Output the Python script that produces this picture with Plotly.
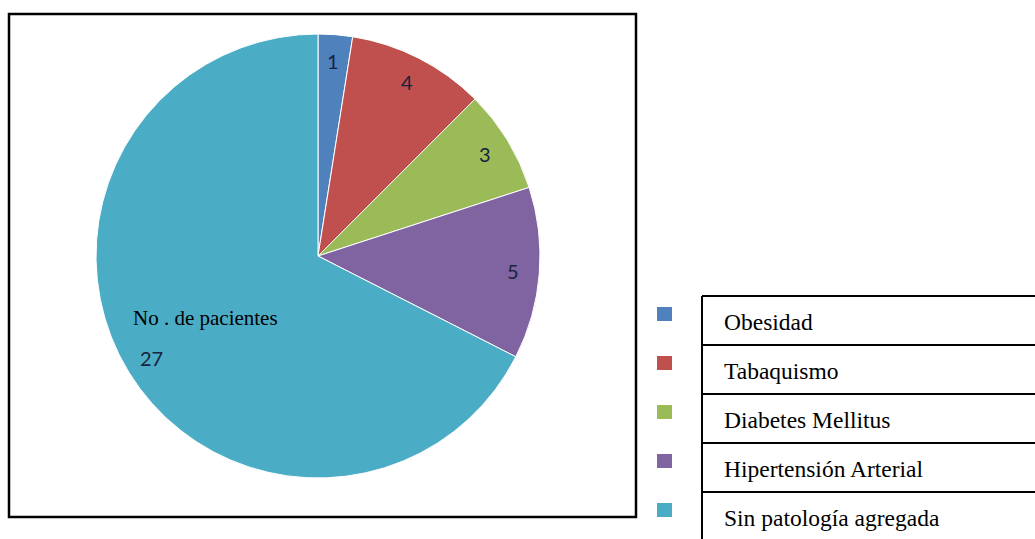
import math
import plotly.graph_objects as go

# Patients by associated condition
categories = ["Obesidad", "Tabaquismo", "Diabetes Mellitus", "Hipertensión Arterial", "Sin patología agregada"]
patients = [1, 4, 3, 5, 27]
colors = ["#4F81BD", "#C0504D", "#9BBB59", "#8064A2", "#4BACC6"]
series_name = "No . de pacientes"

W, H = 1035, 539
cx, cy, R = 318, 256, 222  # pie centre and radius in pixels


def px(x):
    return x / W


def py(y):
    return 1 - y / H


fig = go.Figure()
fig.add_trace(go.Pie(
    labels=categories,
    values=patients,
    marker=dict(colors=colors, line=dict(color="white", width=1)),
    sort=False,
    direction="clockwise",
    rotation=0,
    textinfo="none",
    hoverinfo="label+value",
    showlegend=False,
    domain=dict(x=[px(cx - R), px(cx + R)], y=[py(cy + R), py(cy - R)]),
))

annotations = []
shapes = []

# value labels placed along each slice's mid-angle
total = sum(patients)
cum = 0
label_pos = []
for v in patients:
    theta = 2 * math.pi * (cum + v / 2) / total
    cum += v
    rl = 0.88 * R
    lx = cx + rl * math.sin(theta)
    ly = cy - rl * math.cos(theta)
    label_pos.append((lx, ly))
    annotations.append(dict(
        x=px(lx), y=py(ly), xref="paper", yref="paper",
        text=str(v), showarrow=False,
        font=dict(family="Lato, Carlito, sans-serif", size=20, color="#18233D"),
        xanchor="center", yanchor="middle",
    ))

# series name above the largest slice's label
bx, by = label_pos[-1]
annotations.append(dict(
    x=px(bx - 20), y=py(by - 40), xref="paper", yref="paper",
    text=series_name, showarrow=False,
    font=dict(family="Liberation Serif, Times New Roman, serif", size=21, color="black"),
    xanchor="left", yanchor="middle",
))

# chart frame
shapes.append(dict(type="rect", xref="paper", yref="paper",
                   x0=px(9), x1=px(636), y0=py(517), y1=py(14),
                   line=dict(color="black", width=2.5)))

# legend: colour keys beside a ruled table of category names
row_top, row_h = 296, 49
table_left = 702
shapes.append(dict(type="line", xref="paper", yref="paper",
                   x0=px(table_left), x1=px(table_left), y0=py(row_top), y1=0,
                   line=dict(color="black", width=2)))
for i, (name, col) in enumerate(zip(categories, colors)):
    y0 = row_top + i * row_h
    shapes.append(dict(type="line", xref="paper", yref="paper",
                       x0=px(table_left), x1=1, y0=py(y0), y1=py(y0),
                       line=dict(color="black", width=2)))
    shapes.append(dict(type="rect", xref="paper", yref="paper",
                       x0=px(657), x1=px(672), y0=py(y0 + 11), y1=py(y0 + 25),
                       fillcolor=col, line=dict(width=0)))
    annotations.append(dict(
        x=px(722), y=py(y0 + 26), xref="paper", yref="paper",
        text=name, showarrow=False,
        font=dict(family="Liberation Serif, Times New Roman, serif", size=23.5, color="black"),
        xanchor="left", yanchor="middle",
    ))

fig.update_layout(
    width=W, height=H,
    margin=dict(l=0, r=0, t=0, b=0),
    paper_bgcolor="white",
    plot_bgcolor="white",
    shapes=shapes,
    annotations=annotations,
)

fig.write_html("out.html")
